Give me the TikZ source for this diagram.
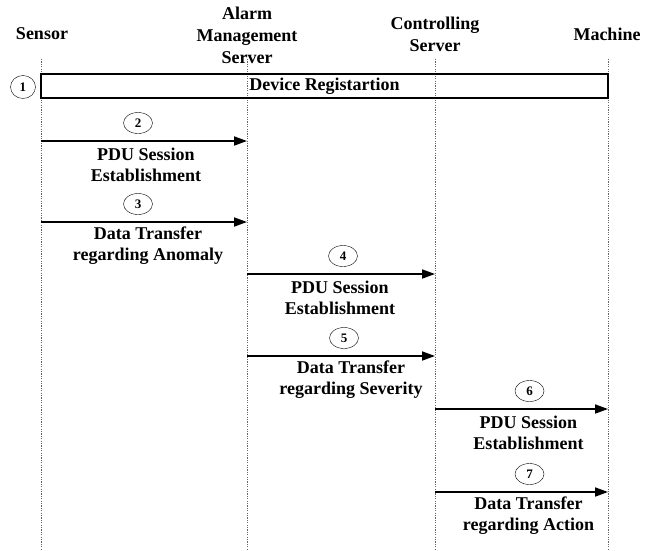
\documentclass[tikz,border=0pt]{standalone}
\usepackage{fontspec}
\setmainfont{Liberation Serif}
\usetikzlibrary{arrows.meta,positioning,calc,shapes.geometric}

\begin{document}
\begin{tikzpicture}[x=1pt,y=-1pt,
  hdr/.style={font=\bfseries\fontsize{18}{22}\selectfont,align=center},
  lbl/.style={font=\bfseries\fontsize{18}{21}\selectfont,align=center,inner sep=0pt},
  num/.style={draw,ellipse,minimum width=29pt,minimum height=21pt,inner sep=0pt,font=\bfseries\fontsize{13}{13}\selectfont},
  life/.style={gray!80!black,line width=0.8pt,dash pattern=on 1.2pt off 1.2pt},
  msg/.style={line width=1.8pt,-{Triangle[length=13pt,width=9pt]}}]
\useasboundingbox (0,0) rectangle (651,550);

\node[hdr] (sen) at (42,34) {Sensor};
\node[hdr] (ams) at (247,35) {Alarm\\Management\\Server};
\node[hdr] (cs) at (435,34) {Controlling\\Server};
\node[hdr] (mac) at (607,34) {Machine};

\foreach \l/\x in {sen/41,ams/247,cs/435,mac/608} {
  \coordinate (\l-t) at (\x,59);
  \coordinate (\l-b) at (\x,550);
  \draw[life] (\l-t) -- (\l-b);
}

\node[draw,line width=1.8pt,minimum width=567pt,minimum height=24pt,inner sep=0pt,
  font=\bfseries\fontsize{18}{21}\selectfont] (reg) at (324.5,86) {Device Registartion};
\node[num,minimum width=25pt,minimum height=23pt] (n1) at (23,87) {1};

% number / from / to / y / circle shift / text shift / text
\foreach \n/\a/\b/\y/\cx/\dx/\txt in {
  2/sen/ams/141/-6/2/{PDU Session\\Establishment},
  3/sen/ams/222/-6/4/{Data Transfer\\regarding Anomaly},
  4/ams/cs/274/2/-1/{PDU Session\\Establishment},
  5/ams/cs/356/3/10/{Data Transfer\\regarding Severity},
  6/cs/mac/409/8/7/{PDU Session\\Establishment},
  7/cs/mac/492/8/7/{Data Transfer\\regarding Action}}
{
  \path (\a-t) ++(0,{\y-59}) coordinate (\a\n);
  \path (\b-t) ++(0,{\y-59}) coordinate (\b\n);
  \draw[msg] (\a\n) -- (\b\n);
  \node[num] (n\n) at ($(\a\n)!0.5!(\b\n)+(\cx,-18)$) {\n};
  \node[lbl] (t\n) at ($(\a\n)!0.5!(\b\n)+(\dx,24)$) {\txt};
}
\end{tikzpicture}
\end{document}
